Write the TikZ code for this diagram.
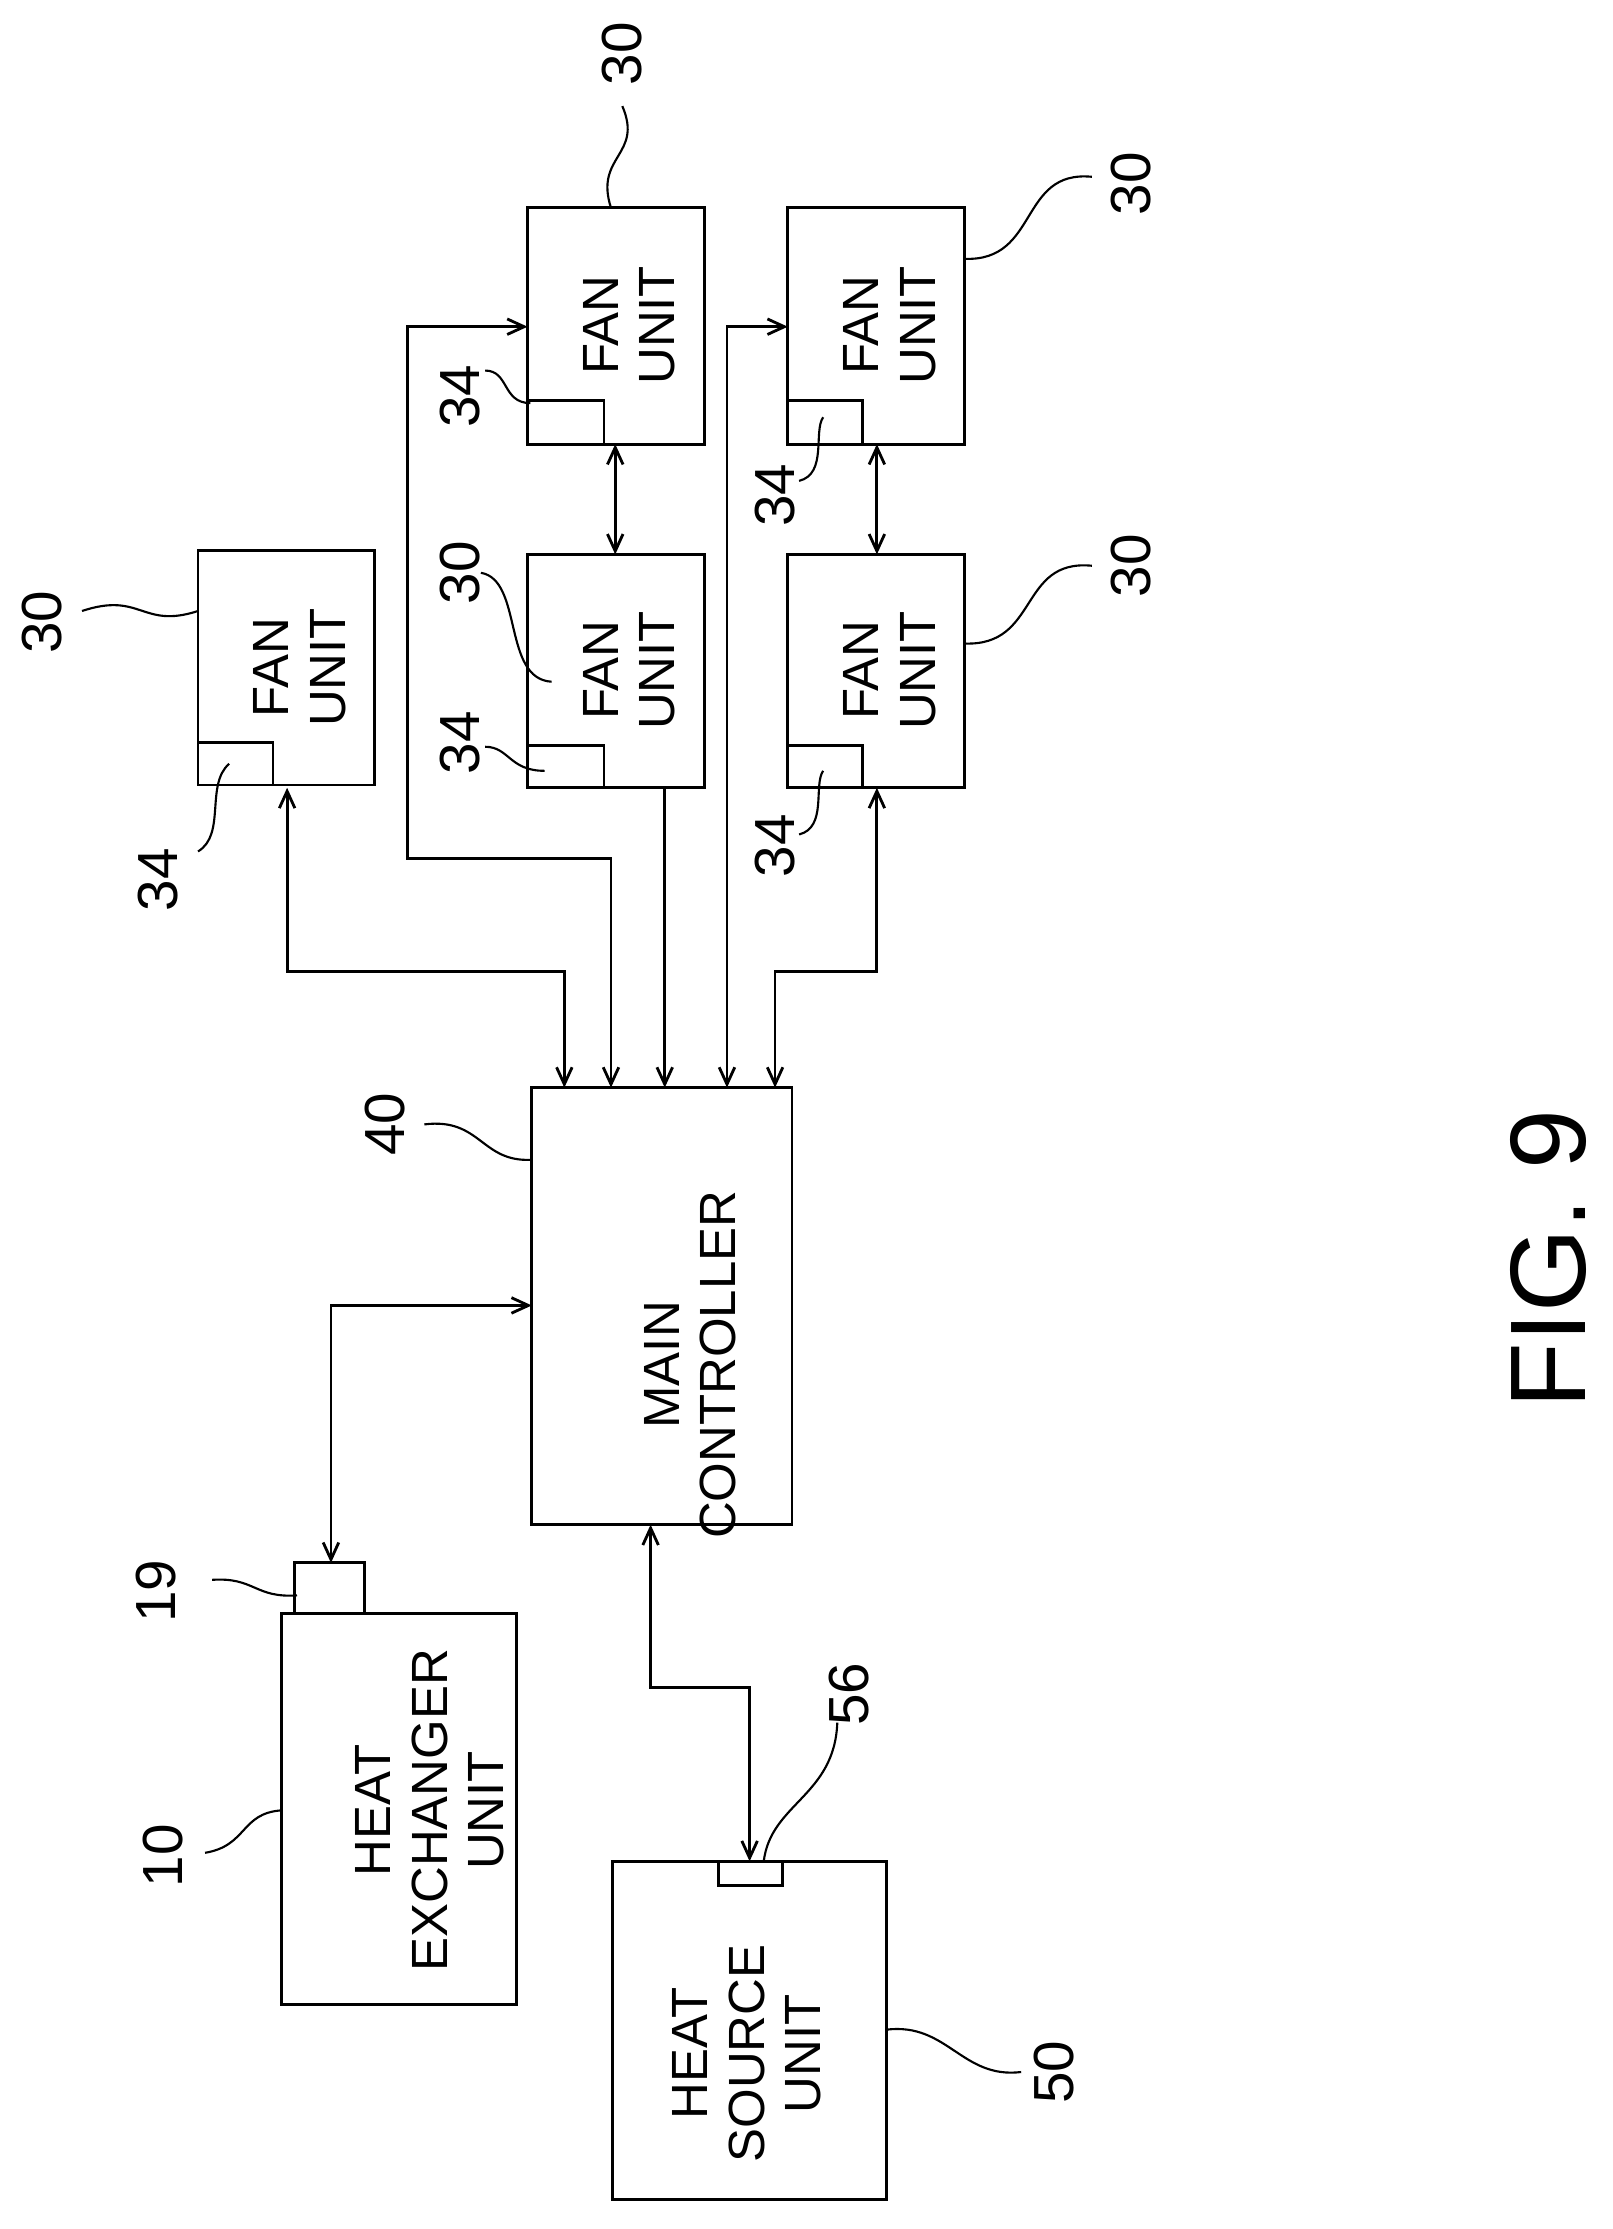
\documentclass[tikz,border=0pt]{standalone}
\usepackage{fontspec}
\setmainfont{Liberation Sans}
\usetikzlibrary{arrows.meta}
\begin{document}
\begin{tikzpicture}[x=1pt,y=-1pt,line width=2pt,
  box/.style={draw,inner sep=0pt},
  lbl/.style={rotate=90,font=\fontsize{40}{42}\selectfont,inner sep=0pt},
  txt/.style={rotate=90,font=\fontsize{36}{40}\selectfont,align=center,inner sep=0pt},
  ld/.style={line width=1.5pt},
  ar/.style={-{Straight Barb[length=12pt,width=11pt]}},
  dar/.style={{Straight Barb[length=12pt,width=11pt]}-{Straight Barb[length=12pt,width=11pt]}}]
\useasboundingbox[fill=white] (0,0) rectangle (1140,1576);
% fan units
\draw (140,389) rectangle (265,555); \draw (140,525) rectangle (193,555);
\node[txt] (fa) at (212,472) {FAN\\UNIT};
\draw (373,147) rectangle (498,314); \draw (373,283) rectangle (427,314);
\node[txt] (fb) at (445,230) {FAN\\UNIT};
\draw (373,392) rectangle (498,557); \draw (373,527) rectangle (427,557);
\node[txt] (fc) at (445,474) {FAN\\UNIT};
\draw (557,147) rectangle (682,314); \draw (557,283) rectangle (610,314);
\node[txt] (fd) at (629,230) {FAN\\UNIT};
\draw (557,392) rectangle (682,557); \draw (557,527) rectangle (610,557);
\node[txt] (fe) at (629,474) {FAN\\UNIT};
% main controller
\draw (376,769) rectangle (560,1078);
\node[txt] (mc) at (488,965) {MAIN\\CONTROLLER};
% heat exchanger
\draw (199,1141) rectangle (365,1417); \draw (208,1105) rectangle (258,1141);
\node[txt] (hx) at (304,1280) {HEAT\\EXCHANGER\\UNIT};
% heat source
\draw (433,1316) rectangle (627,1555); \draw (508,1316) rectangle (553,1333);
\node[txt] (hs) at (528,1452) {HEAT\\SOURCE\\UNIT};
% connectors
\coordinate (a1) at (203,557); \coordinate (a2) at (399,769);
\draw[dar] (a1) -- (203,687) -- (399,687) -- (a2);
\coordinate (b1) at (373,231); \coordinate (b2) at (432,769);
\draw[dar] (b1) -- (288,231) -- (288,607) -- (432,607) -- (b2);
\coordinate (c1) at (470,557); \coordinate (c2) at (470,769);
\draw[ar] (c1) -- (c2);
\coordinate (d1) at (557,231); \coordinate (d2) at (514,769);
\draw[dar] (d1) -- (514,231) -- (d2);
\coordinate (e1) at (620,557); \coordinate (e2) at (548,769);
\draw[dar] (e1) -- (620,687) -- (548,687) -- (e2);
\draw[dar] (435,314) -- (435,392);
\draw[dar] (620,314) -- (620,392);
\coordinate (h1) at (234,1105); \coordinate (h2) at (376,923);
\draw[dar] (h1) -- (234,923) -- (h2);
\coordinate (s1) at (460,1078); \coordinate (s2) at (530,1316);
\draw[dar] (s1) -- (460,1193) -- (530,1193) -- (s2);
% labels and leaders
\node[lbl] (l1) at (30,440) {30};
\draw[ld] (58,432) .. controls (100,418) and (100,445) .. (140,432);
\node[lbl] (l2) at (112,622) {34};
\draw[ld] (140,602) .. controls (160,590) and (145,555) .. (162,540);
\node[lbl] (l3) at (440,38) {30};
\draw[ld] (440,75) .. controls (455,110) and (420,110) .. (432,147);
\node[lbl] (l4) at (325,280) {34};
\draw[ld] (343,262) .. controls (360,262) and (355,285) .. (375,285);
\node[lbl] (l5) at (325,405) {30};
\draw[ld] (340,405) .. controls (370,410) and (355,480) .. (390,482);
\node[lbl] (l6) at (325,525) {34};
\draw[ld] (343,528) .. controls (360,528) and (360,545) .. (385,545);
\node[lbl] (l7) at (800,130) {30};
\draw[ld] (772,125) .. controls (720,120) and (735,185) .. (682,183);
\node[lbl] (l8) at (548,350) {34};
\draw[ld] (565,340) .. controls (585,335) and (575,305) .. (582,295);
\node[lbl] (l9) at (800,400) {30};
\draw[ld] (772,400) .. controls (720,395) and (735,457) .. (682,455);
\node[lbl] (l10) at (548,598) {34};
\draw[ld] (565,590) .. controls (585,585) and (575,555) .. (582,545);
\node[lbl] (l11) at (272,795) {40};
\draw[ld] (300,795) .. controls (340,790) and (340,822) .. (376,820);
\node[lbl] (l12) at (110,1125) {19};
\draw[ld] (150,1117) .. controls (180,1115) and (180,1130) .. (210,1128);
\node[lbl] (l13) at (115,1312) {10};
\draw[ld] (145,1310) .. controls (175,1305) and (170,1282) .. (199,1280);
\node[lbl] (l14) at (600,1198) {56};
\draw[ld] (592,1218) .. controls (590,1270) and (545,1275) .. (540,1316);
\node[lbl] (l15) at (745,1465) {50};
\draw[ld] (722,1465) .. controls (680,1470) and (670,1430) .. (627,1435);
\node[rotate=90,font=\fontsize{76}{80}\selectfont,inner sep=0pt] (fig) at (1095,890) {FIG. 9};
\end{tikzpicture}
\end{document}
